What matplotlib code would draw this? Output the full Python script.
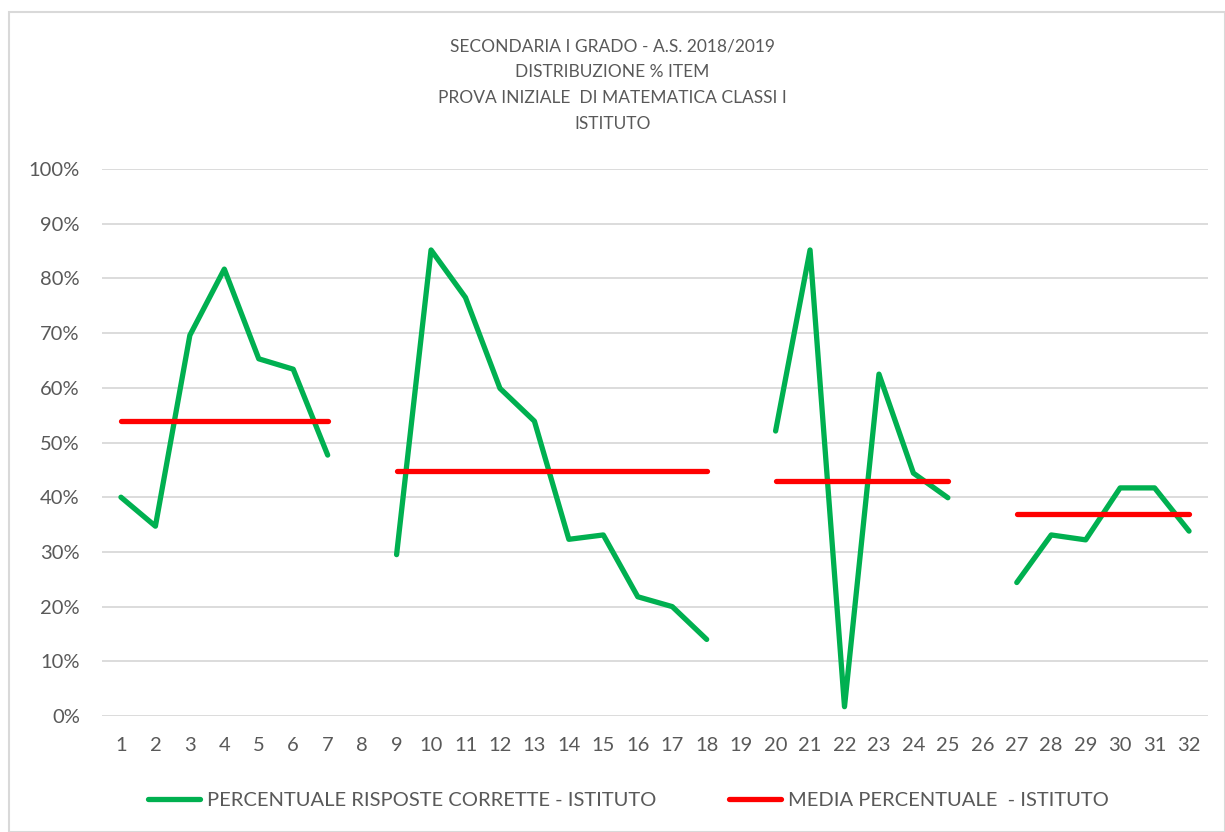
import numpy as np
import matplotlib
matplotlib.use("Agg")
import matplotlib.pyplot as plt
from matplotlib.patches import Rectangle
from matplotlib.ticker import PercentFormatter

plt.rcParams['font.family'] = ['Lato', 'DejaVu Sans']

items = list(range(1, 33))
nan = np.nan
# % correct answers per item (gaps at 8, 19, 26)
correct = [40.0, 34.7, 69.6, 81.7, 65.3, 63.4, 47.7, nan,
           29.5, 85.2, 76.5, 59.9, 53.9, 32.3, 33.1, 21.8, 20.0, 14.0, nan,
           52.1, 85.2, 1.7, 62.5, 44.4, 39.9, nan,
           24.4, 33.1, 32.2, 41.7, 41.7, 33.8]
# mean per block
block_means = [54.0, 44.8, 43.0, 37.0]
block_ranges = [(1, 7), (9, 18), (20, 25), (27, 32)]

mean = [nan] * len(items)
for m, (a, b) in zip(block_means, block_ranges):
    for i in range(a, b + 1):
        mean[i - 1] = m

correct = np.array(correct) / 100
mean = np.array(mean) / 100

title_lines = ["SECONDARIA I GRADO - A.S. 2018/2019",
               "DISTRIBUZIONE % ITEM",
               "PROVA INIZIALE  DI MATEMATICA CLASSI I",
               "ISTITUTO"]

green = "#00B050"
red = "#FF0000"
txt = "#595959"

fig = plt.figure(figsize=(12.25, 8.32), dpi=100)
ax = fig.add_axes([102 / 1225, 116 / 832, (1208 - 102) / 1225, (716 - 169) / 832])

ax.plot(items, correct, color=green, lw=3.8, solid_capstyle='round',
        solid_joinstyle='round', label="PERCENTUALE RISPOSTE CORRETTE - ISTITUTO", zorder=3)
ax.plot(items, mean, color=red, lw=3.8, solid_capstyle='round',
        label="MEDIA PERCENTUALE  - ISTITUTO", zorder=4)

ax.set_xlim(0.45, 32.55)
ax.set_ylim(0, 1)
ax.set_yticks(np.arange(0, 1.01, 0.1))
ax.yaxis.set_major_formatter(PercentFormatter(1.0, decimals=0))
ax.set_xticks(items)
ax.set_xticklabels([str(i) for i in items])
ax.grid(axis='y', color="#D9D9D9", lw=1.3)
ax.set_axisbelow(True)
for s in ax.spines.values():
    s.set_visible(False)
ax.tick_params(axis='both', length=0, labelsize=14.5, colors=txt)
ax.tick_params(axis='y', pad=16)
ax.tick_params(axis='x', pad=15)

for k, line in enumerate(title_lines):
    fig.text(0.5, 1 - (46 + k * 26) / 832, line, ha='center', va='center',
             fontsize=12.5, color=txt)

fig.legend(loc='center', bbox_to_anchor=(0.513, 1 - 800 / 832), ncol=2, frameon=False,
           fontsize=14.5, labelcolor=txt, handlelength=2.6, handletextpad=0.35,
           columnspacing=3.6)

fig.patches.append(Rectangle((9 / 1225, 0), 1 - 9 / 1225, 1 - 12 / 832,
                             transform=fig.transFigure, fill=False,
                             edgecolor="#D9D9D9", lw=1.5))

fig.savefig("out.png", dpi=100, facecolor="white")
